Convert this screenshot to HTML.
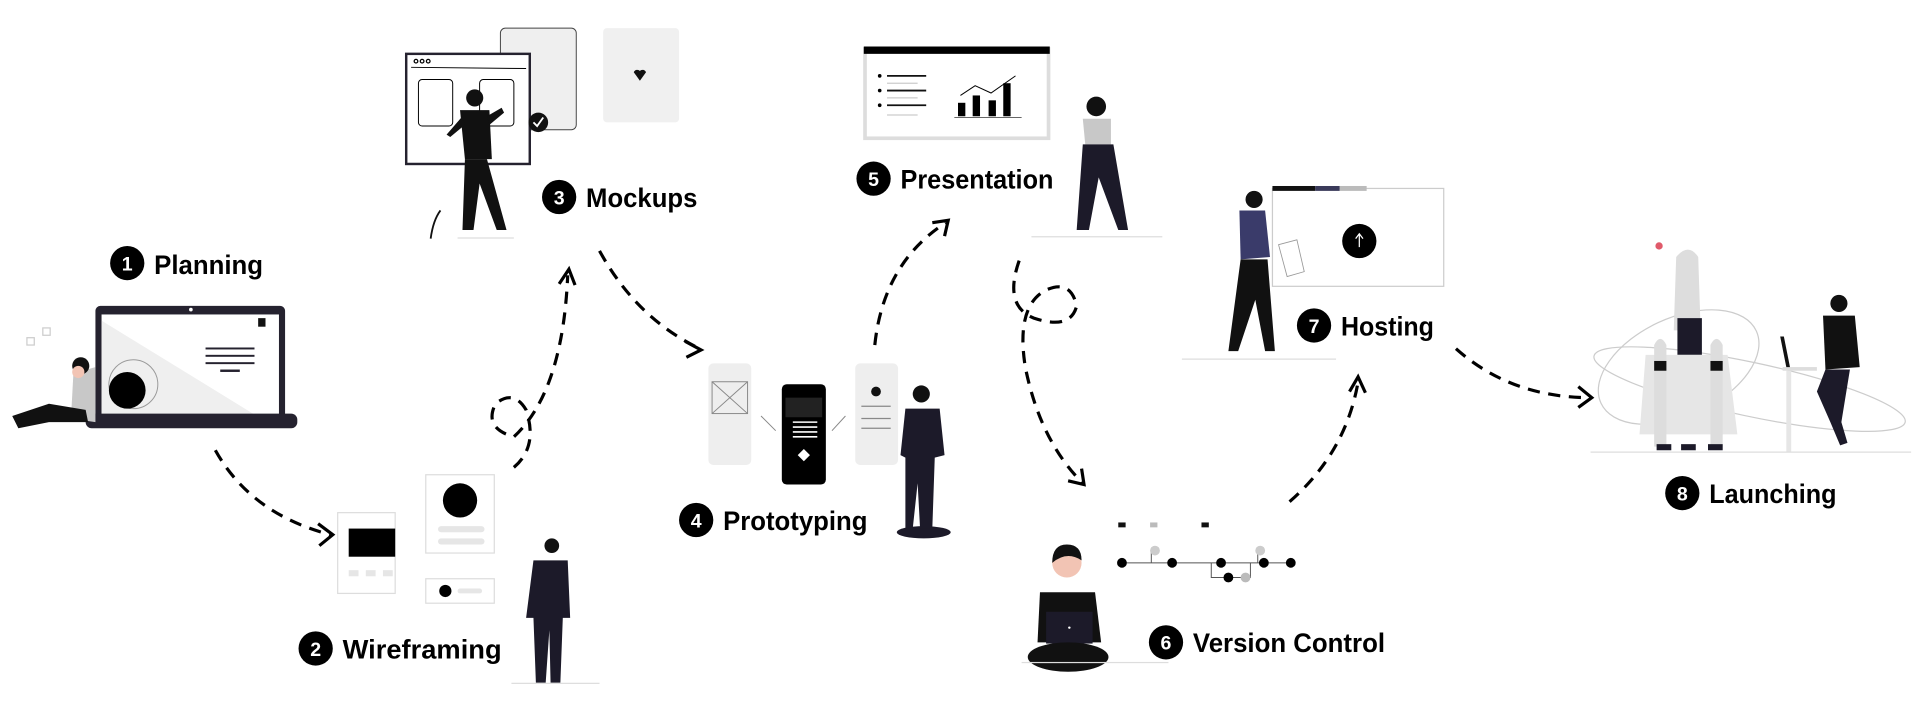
<!DOCTYPE html>
<html><head><meta charset="utf-8"><style>
html,body{margin:0;padding:0;background:#fff;}
svg{display:block}
text.l{font-family:"Liberation Sans",sans-serif;font-weight:bold;font-size:22px;fill:#000}
text.n{font-family:"Liberation Sans",sans-serif;font-weight:bold;font-size:16px;fill:#fff;text-anchor:middle}
.d{fill:none;stroke:#000;stroke-width:2.6;stroke-dasharray:10 7}
.a{fill:none;stroke:#000;stroke-width:2.6}
</style></head><body>
<svg width="1916" height="706" viewBox="0 0 1566 577" xmlns="http://www.w3.org/2000/svg">
<!-- Labels -->
<circle cx="104" cy="215" r="14"/><text class="n" x="104" y="221">1</text><text class="l" x="126" y="224" textLength="89" lengthAdjust="spacingAndGlyphs">Planning</text>
<circle cx="258" cy="530" r="14"/><text class="n" x="258" y="536">2</text><text class="l" x="280" y="538" textLength="130" lengthAdjust="spacingAndGlyphs">Wireframing</text>
<circle cx="457" cy="161" r="14"/><text class="n" x="457" y="167">3</text><text class="l" x="479" y="169" textLength="91" lengthAdjust="spacingAndGlyphs">Mockups</text>
<circle cx="569" cy="425" r="14"/><text class="n" x="569" y="431">4</text><text class="l" x="591" y="433" textLength="118" lengthAdjust="spacingAndGlyphs">Prototyping</text>
<circle cx="714" cy="146" r="14"/><text class="n" x="714" y="152">5</text><text class="l" x="736" y="154" textLength="125" lengthAdjust="spacingAndGlyphs">Presentation</text>
<circle cx="953" cy="525" r="14"/><text class="n" x="953" y="531">6</text><text class="l" x="975" y="533" textLength="157" lengthAdjust="spacingAndGlyphs">Version Control</text>
<circle cx="1074" cy="266" r="14"/><text class="n" x="1074" y="272">7</text><text class="l" x="1096" y="274" textLength="76" lengthAdjust="spacingAndGlyphs">Hosting</text>
<circle cx="1375" cy="403" r="14"/><text class="n" x="1375" y="409">8</text><text class="l" x="1397" y="411" textLength="104" lengthAdjust="spacingAndGlyphs">Launching</text>

<!-- Arrows -->
<path class="d" d="M176 368 Q205 420 270 437"/><path class="a" d="M260 428 L272 437 L261 446"/>
<path class="d" d="M420 382 Q440 365 430 335 Q420 318 405 330 Q395 350 420 357 Q460 320 464 225"/><path class="a" d="M457 232 L465 220 L470 233"/>
<path class="d" d="M490 205 Q520 260 572 285"/><path class="a" d="M560 279 L573 286 L561 292"/>
<path class="d" d="M715 282 Q722 215 773 182"/><path class="a" d="M762 182 L775 180 L772 193"/>
<path class="d" d="M833 213 Q820 250 845 260 Q875 270 880 250 Q875 228 855 237 Q830 250 838 300 Q850 360 885 395"/><path class="a" d="M873 393 L886 396 L884 383"/>
<path class="d" d="M1054 410 Q1100 370 1110 312"/><path class="a" d="M1103 320 L1110 308 L1116 321"/>
<path class="d" d="M1190 285 Q1235 325 1300 325"/><path class="a" d="M1290 316 L1301 325 L1290 333"/>

<!-- Planning laptop -->
<rect x="78" y="250" width="155" height="94" rx="4" fill="#25222f"/>
<rect x="83" y="257" width="145" height="83" fill="#fff"/>
<path d="M83 262 L210 340 L83 340Z" fill="#efefef"/>
<circle cx="156" cy="253" r="1.5" fill="#fff"/>
<circle cx="109" cy="314" r="20" fill="none" stroke="#999" stroke-width="0.8"/>
<circle cx="104" cy="319" r="15" fill="#000"/>
<rect x="211" y="260" width="6" height="7" fill="#111"/>
<rect x="168" y="284" width="40" height="1.6" fill="#25222f"/><rect x="168" y="290" width="40" height="1.6" fill="#25222f"/><rect x="168" y="296" width="40" height="1.6" fill="#25222f"/><rect x="180" y="302" width="16" height="2" fill="#25222f"/>
<rect x="70" y="338" width="173" height="12" rx="5" fill="#25222f"/>
<path d="M60 305 L78 300 L78 345 L58 342Z" fill="#c8c8c8"/>
<circle cx="66" cy="299" r="7" fill="#111"/><circle cx="64" cy="304" r="5" fill="#f2c4b4"/>
<path d="M10 340 L40 330 L70 335 L72 345 L40 345 L15 350Z" fill="#111"/>
<rect x="35" y="268" width="6" height="6" fill="none" stroke="#ccc"/><rect x="22" y="276" width="6" height="6" fill="none" stroke="#ccc"/>

<!-- Mockups -->
<rect x="409" y="23" width="62" height="83" rx="4" fill="#efefef" stroke="#444" stroke-width="0.8"/>
<rect x="493" y="23" width="62" height="77" rx="3" fill="#f0f0f0"/>
<path d="M518 59 a3 3 0 0 1 5 -1 a3 3 0 0 1 5 1 l-5 7z" fill="#111"/>
<rect x="332" y="44" width="101" height="90" fill="#fff" stroke="#25222f" stroke-width="2"/>
<circle cx="340" cy="50" r="1.5" fill="none" stroke="#000"/><circle cx="345" cy="50" r="1.5" fill="none" stroke="#000"/><circle cx="350" cy="50" r="1.5" fill="none" stroke="#000"/>
<line x1="336" y1="55" x2="430" y2="56" stroke="#000" stroke-width="0.8"/>
<rect x="342" y="65" width="28" height="38" rx="3" fill="none" stroke="#000" stroke-width="0.8"/>
<rect x="392" y="65" width="28" height="38" rx="3" fill="none" stroke="#000" stroke-width="0.8"/>
<circle cx="440" cy="100" r="8" fill="#111"/><path d="M436 100 L439 103 L444 96" stroke="#fff" stroke-width="1.5" fill="none"/>
<circle cx="388" cy="80" r="7" fill="#111"/>
<path d="M376 90 L400 90 L402 130 L380 130Z" fill="#111"/>
<path d="M380 130 L398 130 L414 188 L406 188 L392 150 L387 188 L378 188Z" fill="#111"/>
<path d="M398 95 L410 88 L412 92 L400 102Z" fill="#111"/><path d="M378 95 L365 110 L368 112 L380 102Z" fill="#111"/>
<rect x="374" y="194" width="46" height="1" fill="#ddd"/>
<path d="M352 195 Q354 180 360 172" stroke="#111" fill="none" stroke-width="1.5"/>

<!-- Wireframing -->
<rect x="276" y="419" width="47" height="66" fill="#fff" stroke="#ddd"/>
<rect x="285" y="432" width="38" height="23" fill="#000"/>
<rect x="285" y="466" width="8" height="5" fill="#e6e6e6"/><rect x="299" y="466" width="8" height="5" fill="#e6e6e6"/><rect x="313" y="466" width="8" height="5" fill="#e6e6e6"/>
<rect x="348" y="388" width="56" height="64" fill="#fff" stroke="#ddd"/>
<circle cx="376" cy="409" r="14" fill="#000"/>
<rect x="358" y="430" width="38" height="5" rx="2.5" fill="#e6e6e6"/><rect x="358" y="440" width="38" height="5" rx="2.5" fill="#e6e6e6"/>
<rect x="348" y="473" width="56" height="20" fill="#fff" stroke="#ddd"/>
<circle cx="364" cy="483" r="5" fill="#000"/><rect x="374" y="481" width="20" height="4" rx="2" fill="#e6e6e6"/>
<circle cx="451" cy="446" r="6" fill="#111"/>
<path d="M436 458 L464 458 L466 505 L460 505 L458 558 L450 558 L449 515 L446 558 L438 558 L436 505 L430 505Z" fill="#1c1a29"/>
<rect x="418" y="558" width="72" height="1" fill="#ddd"/>

<!-- Prototyping -->
<rect x="579" y="297" width="35" height="83" rx="4" fill="#eee"/>
<rect x="582" y="312" width="29" height="26" fill="none" stroke="#888" stroke-width="0.8"/><path d="M582 312 L611 338 M611 312 L582 338" stroke="#888" stroke-width="0.8"/>
<rect x="699" y="297" width="35" height="83" rx="4" fill="#eee"/>
<circle cx="716" cy="320" r="4" fill="#111"/>
<path d="M704 332 H728 M704 342 H728 M704 350 H728" stroke="#888"/>
<rect x="639" y="314" width="36" height="82" rx="4" fill="#000"/>
<rect x="642" y="325" width="30" height="16" fill="#222"/>
<path d="M648 345 H668 M648 349 H668 M648 353 H668 M648 357 H668" stroke="#fff" stroke-width="1.3"/>
<path d="M657 367 L662 372 L657 377 L652 372Z" fill="#fff"/>
<path d="M622 340 L634 352 M691 340 L680 352" stroke="#888" stroke-width="0.8"/>
<ellipse cx="755" cy="435" rx="22" ry="5" fill="#1c1a29"/>
<circle cx="753" cy="322" r="7" fill="#111"/>
<path d="M740 334 L768 334 L772 372 L764 374 L762 432 L752 432 L750 395 L746 432 L740 432 L740 374 L736 372Z" fill="#1c1a29"/>

<!-- Presentation -->
<rect x="707" y="40" width="150" height="73" fill="#fff" stroke="#ddd" stroke-width="3"/>
<rect x="706" y="38" width="152" height="6" fill="#000"/>
<path d="M725 62 H757 M725 74 H757 M725 86 H757" stroke="#111" stroke-width="1.5"/><path d="M725 68 H750 M725 80 H750 M725 94 H750" stroke="#ccc"/>
<circle cx="719" cy="62" r="1.5"/><circle cx="719" cy="74" r="1.5"/><circle cx="719" cy="86" r="1.5"/>
<rect x="783" y="84" width="6" height="11"/><rect x="795" y="78" width="6" height="17"/><rect x="808" y="82" width="6" height="13"/><rect x="820" y="68" width="6" height="27"/>
<path d="M785 78 L797 70 L810 76 L830 62" stroke="#000" fill="none" stroke-width="0.8"/>
<line x1="780" y1="96" x2="835" y2="96" stroke="#333" stroke-width="0.6"/>
<circle cx="896" cy="87" r="8" fill="#111"/>
<path d="M885 97 L908 97 L908 118 L887 118Z" fill="#c8c8c8"/>
<path d="M885 118 L910 118 L922 188 L914 188 L898 145 L890 188 L880 188Z" fill="#1c1a29"/>
<rect x="843" y="193" width="107" height="1" fill="#ddd"/>

<!-- Hosting -->
<rect x="1040" y="154" width="140" height="80" fill="#fff" stroke="#ccc"/>
<rect x="1040" y="152" width="35" height="4" fill="#111"/><rect x="1075" y="152" width="20" height="4" fill="#3a3a5a"/><rect x="1095" y="152" width="22" height="4" fill="#bbb"/>
<circle cx="1111" cy="197" r="14" fill="#000"/><path d="M1111 202 V192 M1108 195 L1111 191 L1114 195" stroke="#fff" stroke-width="1"/>
<path d="M1045 200 L1060 196 L1066 222 L1052 226Z" fill="#fff" stroke="#999" stroke-width="0.7"/>
<circle cx="1025" cy="163" r="7" fill="#111"/>
<path d="M1013 172 L1034 172 L1038 210 L1014 212Z" fill="#3a3b6a"/>
<path d="M1014 212 L1036 212 L1042 287 L1034 287 L1026 245 L1012 287 L1004 287Z" fill="#111"/>
<rect x="966" y="293" width="126" height="1" fill="#ddd"/>

<!-- Version Control -->
<rect x="914" y="427" width="6" height="4" fill="#111"/><rect x="940" y="427" width="6" height="4" fill="#bbb"/><rect x="982" y="427" width="6" height="4" fill="#111"/>
<path d="M917 460 H1055 M941 460 V450 H944 M1028 460 V450 H1030 M990 460 V472 H1022 V460" stroke="#555" fill="none" stroke-width="0.8"/>
<circle cx="917" cy="460" r="4"/><circle cx="958" cy="460" r="4"/><circle cx="998" cy="460" r="4"/><circle cx="1033" cy="460" r="4"/><circle cx="1055" cy="460" r="4"/>
<circle cx="944" cy="450" r="4" fill="#ccc"/><circle cx="1030" cy="450" r="4" fill="#ccc"/>
<circle cx="1004" cy="472" r="4"/><circle cx="1018" cy="472" r="4" fill="#bbb"/>
<circle cx="872" cy="460" r="12" fill="#f2c4b4"/><path d="M860 460 Q860 445 872 445 Q884 445 884 458 Q872 450 860 460Z" fill="#111"/>
<path d="M850 484 L895 484 L900 525 L848 525Z" fill="#111"/>
<rect x="855" y="500" width="38" height="26" fill="#1c1a29"/><circle cx="874" cy="513" r="1" fill="#fff"/>
<ellipse cx="873" cy="537" rx="33" ry="12" fill="#111"/>
<rect x="835" y="541" width="120" height="1" fill="#ddd"/>

<!-- Launching -->
<ellipse cx="1430" cy="318" rx="130" ry="22" fill="none" stroke="#ccc" transform="rotate(12 1430 318)"/>
<ellipse cx="1372" cy="300" rx="70" ry="40" fill="none" stroke="#ccc" transform="rotate(-25 1372 300)"/>
<path d="M1370 210 Q1380 198 1388 210 L1390 270 L1368 270Z" fill="#ddd"/>
<rect x="1371" y="260" width="20" height="30" fill="#1c1a29"/>
<path d="M1345 290 L1412 290 L1420 355 L1340 355Z" fill="#e6e6e6"/>
<path d="M1352 282 Q1357 272 1362 282 V365 H1352Z" fill="#ddd"/><path d="M1398 282 Q1403 272 1408 282 V365 H1398Z" fill="#ddd"/>
<rect x="1352" y="295" width="10" height="8" fill="#111"/><rect x="1398" y="295" width="10" height="8" fill="#111"/>
<rect x="1354" y="363" width="12" height="5" fill="#1c1a29"/><rect x="1374" y="363" width="12" height="5" fill="#1c1a29"/><rect x="1396" y="363" width="12" height="5" fill="#1c1a29"/>
<circle cx="1356" cy="201" r="3" fill="#e05a6a"/>
<rect x="1457" y="300" width="28" height="3" fill="#ddd"/><rect x="1460" y="303" width="4" height="66" fill="#e6e6e6"/>
<path d="M1455 275 L1460 300 L1463 300 L1458 275Z" fill="#111"/>
<circle cx="1503" cy="248" r="7" fill="#111"/>
<path d="M1490 258 L1516 258 L1520 300 L1492 302Z" fill="#111"/>
<path d="M1492 302 L1512 302 L1505 345 L1510 362 L1504 364 L1496 345 L1485 320Z" fill="#1c1a29"/>
<rect x="1300" y="369" width="262" height="1" fill="#ddd"/>
</svg>
</body></html>
